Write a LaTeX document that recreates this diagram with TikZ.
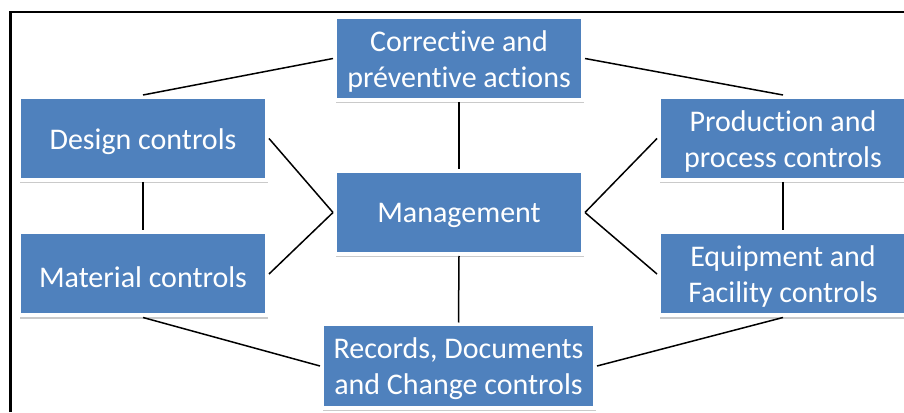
\documentclass[tikz,border=0pt]{standalone}
\usepackage{fontspec}
\setmainfont[Ligatures={NoCommon}]{Carlito}
\usetikzlibrary{shadows}
\definecolor{boxblue}{HTML}{4F81BD}
\tikzset{
  box/.style={rectangle, fill=boxblue, draw=white, line width=4pt,
    inner sep=0pt,
    drop shadow={shadow xshift=1pt, shadow yshift=-3.5pt, opacity=0.35, fill=black!60}},
  lbl/.style={text=white, align=center, inner sep=0pt, yshift=-3pt,
    font=\fontsize{30}{36}\selectfont},
  wide/.style={minimum width=248pt, minimum height=83pt},
  conn/.style={draw=black, line width=1.5pt}
}
\begin{document}
\begin{tikzpicture}[x=1pt,y=1pt]
\useasboundingbox (0,0) rectangle (904,412);
\draw[line width=2.5pt] (10.5,0) -- (10.5,400) -- (904,400);
\node[box,wide,label={[lbl]center:Corrective and\\préventive actions}] (corr) at (459,353.5) {};
\node[box,wide,label={[lbl]center:Design controls}] (design) at (143,273.5) {};
\node[box,wide,label={[lbl]center:Management}] (mgmt) at (459,199.5) {};
\node[box,wide,label={[lbl]center:Production and\\process controls}] (prod) at (783,273.5) {};
\node[box,wide,label={[lbl]center:Material controls}] (mat) at (143,138) {};
\node[box,wide,label={[lbl]center:Equipment and\\Facility controls}] (equip) at (783,138) {};
\node[box,minimum width=273pt,minimum height=83pt,label={[lbl]center:Records, Documents\\and Change controls}] (rec) at (458.5,46) {};
\draw[conn] (design.north) -- (corr.west);
\draw[conn] (corr.east) -- (prod.north);
\draw[conn] (mat.south) -- (rec.west);
\draw[conn] (rec.east) -- (equip.south);
\draw[conn] (design.east) -- (mgmt.west);
\draw[conn] (mat.east) -- (mgmt.west);
\draw[conn] (mgmt.east) -- (prod.west);
\draw[conn] (mgmt.east) -- (equip.west);
\draw[conn] (design.south) -- (mat.north);
\draw[conn] (prod.south) -- (equip.north);
\draw[conn] (corr.south) -- (mgmt.north);
\draw[conn] (mgmt.south) -- (rec.north);
\end{tikzpicture}
\end{document}
